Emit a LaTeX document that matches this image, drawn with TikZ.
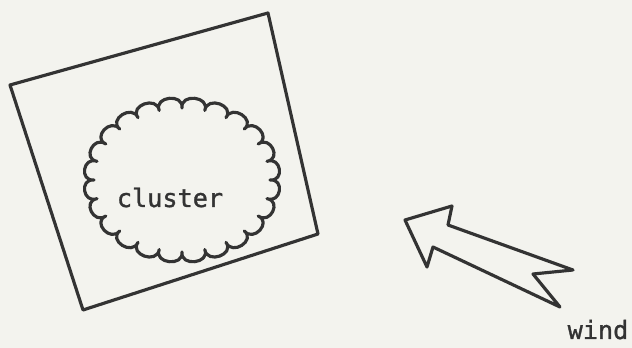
\documentclass[tikz,border=0pt]{standalone}
\usepackage{fontspec}
\newfontfamily\typefont[FakeBold=1.2]{DejaVu Sans Mono}
\usetikzlibrary{calc}
\definecolor{inkgray}{HTML}{333333}
\definecolor{paper}{HTML}{F3F3EE}

\begin{document}
\begin{tikzpicture}[x=0.03cm,y=-0.03cm,
   ink/.style={draw=inkgray,line width=2.7pt,line join=round,line cap=round},
   lbl/.style={font=\typefont\fontsize{21.5}{24}\selectfont,text=inkgray,inner sep=0pt}]
  \useasboundingbox (0,0) rectangle (632,348);
  \fill[paper] (0,0) rectangle (632,348);
  % tilted frame
  \draw[ink] (10,85) -- (268,13) -- (318,234) -- (83,310) -- cycle;
  % cloud round the cluster
  \coordinate (c) at (182,180);
  \draw[ink] ($(c)+(0:88 and 72)$)
    \foreach \i [evaluate=\i as \a using (\i-1)*360/24,
                 evaluate=\i as \b using \i*360/24] in {1,...,24}{
      .. controls ($(c)+(\a-1:103 and 87)$) and ($(c)+(\b+1:103 and 87)$)
      .. ($(c)+(\b:88 and 72)$)} -- cycle;
  \node[lbl,anchor=base] (cluster) at (170,207) {cluster};
  % wind arrow
  \draw[ink] (405,220) -- (452,206) -- (448,225) -- (573,270) -- (533,274)
    -- (560,307) -- (433,247) -- (427,267) -- cycle;
  \node[lbl,anchor=base] (wind) at (598,339) {wind};
\end{tikzpicture}
\end{document}
